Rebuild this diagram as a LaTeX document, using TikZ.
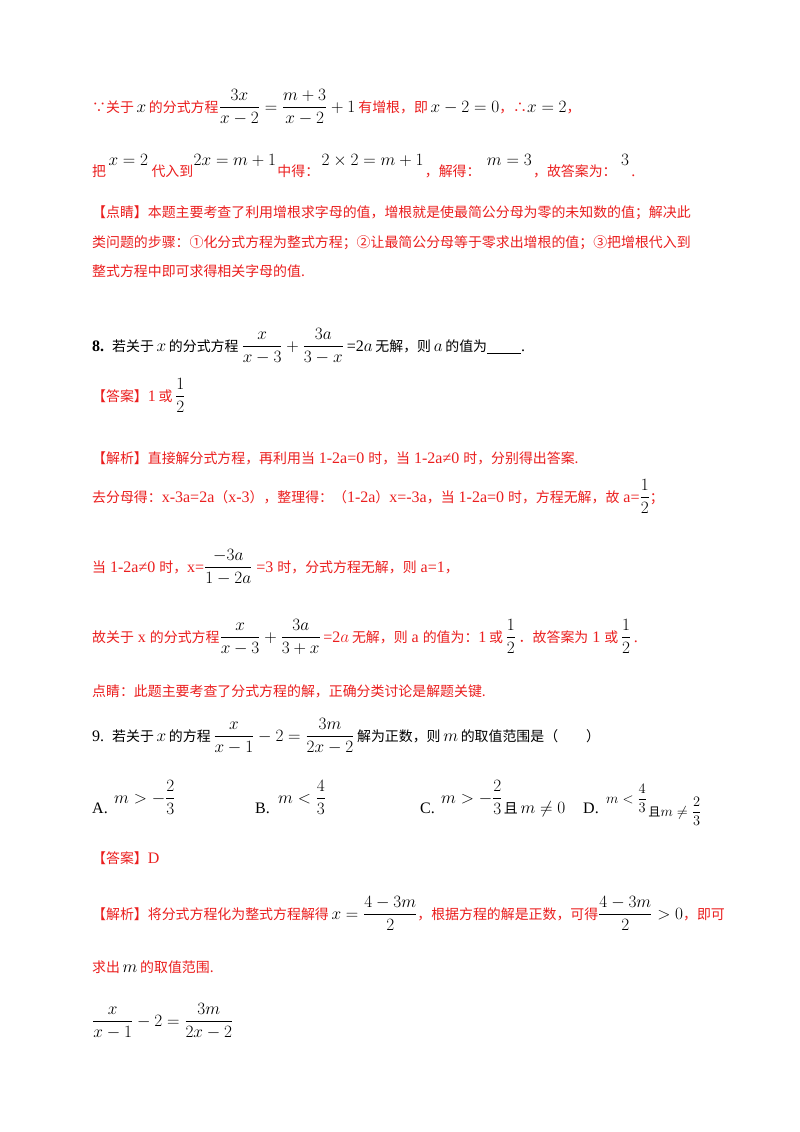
\documentclass[tikz,border=0pt]{standalone}
\usepackage{amsmath}
\usepackage{fontspec}
\setmainfont{Liberation Serif}
\newfontfamily\cjk{Noto Sans CJK SC}[Scale=0.87]
\definecolor{rd}{RGB}{235,30,30}
\tikzset{t/.style={anchor=base west,inner sep=0pt,font=\fontsize{16}{18}\selectfont},r/.style={t,text=rd}}
\begin{document}
\begin{tikzpicture}[x=1pt,y=-1pt]
\useasboundingbox (0,0) rectangle (800,1132);
\fill[white] (0,0) rectangle (800,1132);
% line 1
\node[r] (a1) at (92,112) {{\cjk ∵关于}\,\textcolor{black}{$x$}\,{\cjk 的分式方程}};
\node[t] (a2) at (a1.base east) {$\dfrac{3x}{x-2}=\dfrac{m+3}{x-2}+1$};
\node[r] (a3) at (a2.base east) {\,{\cjk 有增根，即}\,\textcolor{black}{$x-2=0$}{\cjk ，∴}\textcolor{black}{$x=2$}{\cjk ，}};
% line 2
\node[r] (b1) at (92,176) {\cjk 把};
\node[t] (b2) at ([xshift=2pt,yshift=11pt]b1.base east) {$x=2$};
\node[r] (b3) at ([xshift=3pt]b1.base east -| b2.east) {\cjk 代入到};
\node[t] (b4) at ([yshift=11pt]b3.base east) {$2x=m+1$};
\node[r] (b5) at ([xshift=1pt]b3.base east -| b4.east) {\cjk 中得：};
\node[t] (b6) at ([xshift=2pt,yshift=11pt]b5.base east) {$2\times2=m+1$};
\node[r] (b7) at ([xshift=1pt]b5.base east -| b6.east) {\cjk ，解得：};
\node[t] (b8) at ([xshift=6pt,yshift=11pt]b7.base east) {$m=3$};
\node[r] (b9) at ([xshift=1pt]b7.base east -| b8.east) {\cjk ，故答案为：};
\node[t] (b10) at ([xshift=4pt,yshift=11pt]b9.base east) {$3$};
\node[r] (b11) at ([xshift=2pt]b9.base east -| b10.east) {.};
% dianjing
\node[r] (c1) at (92,217) {\cjk 【点睛】本题主要考查了利用增根求字母的值，增根就是使最简公分母为零的未知数的值；解决此};
\node[r] (c2) at (92,247) {\cjk 类问题的步骤：①化分式方程为整式方程；②让最简公分母等于零求出增根的值；③把增根代入到};
\node[r] (c3) at (92,276) {\cjk 整式方程中即可求得相关字母的值.};
% Q8
\node[t] (d1) at (92,351) {\textbf{8.}\ \ {\cjk 若关于}\,$x$\,{\cjk 的分式方程}};
\node[t] (d2) at (d1.base east) {\,$\dfrac{x}{x-3}+\dfrac{3a}{3-x}$};
\node[t] (d3) at (d2.base east) {\,=2$a$\,{\cjk 无解，则}\,$a$\,{\cjk 的值为}\underline{\hspace{34pt}}.};
\node[r] (e1) at (92,401) {{\cjk 【答案】}1\,{\cjk 或}\,\textcolor{black}{$\dfrac{1}{2}$}};
\node[r] (f1) at (92,463) {{\cjk 【解析】直接解分式方程，再利用当} 1-2a=0 {\cjk 时，当} 1-2a≠0 {\cjk 时，分别得出答案.}};
\node[r] (g1) at (92,502) {{\cjk 去分母得：}x-3a=2a{\cjk （}x-3{\cjk ），整理得：（}1-2a{\cjk ）}x=-3a{\cjk ，当} 1-2a=0 {\cjk 时，方程无解，故} a=\textcolor{black}{$\dfrac{1}{2}$}{\cjk ；}};
\node[r] (h1) at (92,572) {{\cjk 当} 1-2a≠0 {\cjk 时，}x=\textcolor{black}{$\dfrac{-3a}{1-2a}$} =3 {\cjk 时，分式方程无解，则} a=1{\cjk ，}};
\node[r] (i1) at (92,642) {{\cjk 故关于} x {\cjk 的分式方程}\textcolor{black}{$\dfrac{x}{x-3}+\dfrac{3a}{3+x}$}\,=2$a$\,{\cjk 无解，则} a {\cjk 的值为：}1\,{\cjk 或}\,\textcolor{black}{$\dfrac{1}{2}$}\,{\cjk ．故答案为} 1 {\cjk 或}\,\textcolor{black}{$\dfrac{1}{2}$}\,.};
\node[r] (j1) at (92,696) {\cjk 点睛：此题主要考查了分式方程的解，正确分类讨论是解题关键.};
% Q9
\node[t] (k1) at (92,741) {9.\ \ {\cjk 若关于}\,$x$\,{\cjk 的方程}\,$\dfrac{x}{x-1}-2=\dfrac{3m}{2x-2}$\,{\cjk 解为正数，则}\,$m$\,{\cjk 的取值范围是（\qquad ）}};
\node[t] (l1) at (92,813) {A.};
\node[t] (l2) at (114,803) {$m>-\dfrac{2}{3}$};
\node[t] (l3) at (255,813) {B.};
\node[t] (l4) at (278,803) {$m<\dfrac{4}{3}$};
\node[t] (l5) at (420,813) {C.};
\node[t] (l6) at (441,803) {$m>-\dfrac{2}{3}$};
\node[t] (l6b) at ([xshift=1pt]l5.base east -| l6.east) {{\cjk 且}\,$m\neq0$};
\node[t] (l7) at (583,813) {D.};
\node[t,font=\fontsize{14}{16}\selectfont] (l8) at (606,803) {$m<\dfrac{4}{3}$};
\node[t,font=\fontsize{14}{16}\selectfont] (l8b) at ([xshift=1pt,yshift=-3pt]l7.base east -| l8.east) {{\cjk 且}$m\neq\dfrac{2}{3}$};
\node[r] (m1) at (92,863) {{\cjk 【答案】}D};
\node[r] (n1) at (92,919) {{\cjk 【解析】将分式方程化为整式方程解得}\,\textcolor{black}{$x=\dfrac{4-3m}{2}$}{\cjk ，根据方程的解是正数，可得}\textcolor{black}{$\dfrac{4-3m}{2}>0$}{\cjk ，即可}};
\node[r] (o1) at (92,972) {{\cjk 求出}\,\textcolor{black}{$m$}\,{\cjk 的取值范围.}};
\node[t] (p1) at (92,1026) {$\dfrac{x}{x-1}-2=\dfrac{3m}{2x-2}$};
\end{tikzpicture}
\end{document}
